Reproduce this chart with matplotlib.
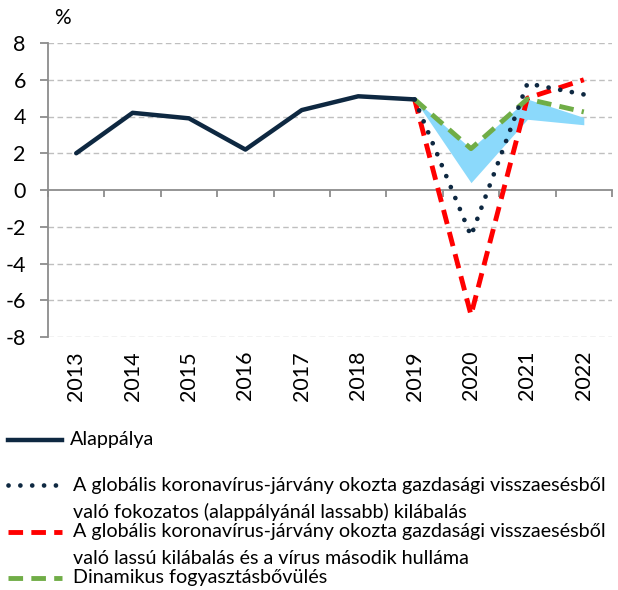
import matplotlib
matplotlib.use("Agg")
import matplotlib.pyplot as plt
from matplotlib.lines import Line2D
import numpy as np

plt.rcParams['font.family'] = ['Lato', 'DejaVu Sans']

years = ['2013', '2014', '2015', '2016', '2017', '2018', '2019', '2020', '2021', '2022']
baseline = [2.0, 4.2, 3.9, 2.2, 4.35, 5.1, 4.93]
gradual = [4.93, -2.5, 5.8, 5.2]
second_wave = [4.93, -6.8, 5.0, 6.0]
dynamic = [4.93, 2.25, 4.95, 4.25]
band_low = [4.93, 0.4, 3.85, 3.55]
band_high = [4.93, 2.25, 4.95, 3.95]

labels = [
    'Alappálya',
    'A globális koronavírus-járvány okozta gazdasági visszaesésből\nvaló fokozatos (alappályánál lassabb) kilábalás',
    'A globális koronavírus-járvány okozta gazdasági visszaesésből\nvaló lassú kilábalás és a vírus második hulláma',
    'Dinamikus fogyasztásbővülés',
]

navy = '#0E2841'
red = '#FF0000'
green = '#70AD47'
lblue = '#8BD9FB'
grid_c = '#BFBFBF'
axis_c = '#8C8C8C'

fig = plt.figure(figsize=(6.18, 5.90), dpi=100)
W, H = 618, 590
ax = fig.add_axes([48 / W, 1 - 337 / H, (612 - 48) / W, (337 - 43) / H])

x_all = np.arange(len(years))
x_base = x_all[:len(baseline)]
x_sc = x_all[6:]

dot_style = dict(color=navy, lw=3.4, dashes=(0.01, 2.5), dash_capstyle='round')
red_style = dict(color=red, lw=3.5, dashes=(3.0, 1.7))
green_style = dict(color=green, lw=3.5, dashes=(3.0, 1.7))

ax.fill_between(x_sc, band_low, band_high, color=lblue, lw=0, zorder=2)
ax.plot(x_base, baseline, color=navy, lw=3.2, solid_capstyle='round', solid_joinstyle='round', zorder=5)
ax.plot(x_sc, gradual, zorder=4, **dot_style)
ax.plot(x_sc, second_wave, zorder=3, **red_style)
ax.plot(x_sc, dynamic, zorder=3.5, **green_style)

ax.set_xlim(-0.5, len(years) - 0.5)
ax.set_ylim(-8, 8)
ax.set_yticks(np.arange(-8, 9, 2))
ax.set_yticklabels([str(v) for v in range(-8, 9, 2)])
for v in range(-8, 9, 2):
    if v != 0:
        ax.axhline(v, color=grid_c, lw=1.0, ls=(0, (4, 2.5)), zorder=1)

for s in ['top', 'right']:
    ax.spines[s].set_visible(False)
ax.spines['left'].set_color(axis_c)
ax.spines['left'].set_linewidth(1.3)
ax.spines['bottom'].set_position(('data', 0))
ax.spines['bottom'].set_color(axis_c)
ax.spines['bottom'].set_linewidth(1.3)
ax.spines['bottom'].set_zorder(1.5)

ax.set_xticks([])
ax.set_xticks(np.arange(-0.5, len(years), 1.0), minor=True)
ax.tick_params(axis='x', which='minor', length=5, width=1.3, color=axis_c, direction='out')
ax.tick_params(axis='y', length=6, width=1.3, color=axis_c, pad=10, labelsize=15.5)

sec = ax.secondary_xaxis(0.0)
sec.set_xticks(x_all)
sec.set_xticklabels(years, rotation=90, fontsize=15.5)
sec.tick_params(length=0, pad=10)
sec.spines['bottom'].set_visible(False)

fig.text(54 / W, 1 - 18 / H, '%', fontsize=15, va='center', ha='left')

# legend
fs = 14.2
handles = [
    dict(color=navy, lw=3.2, ls='-'),
    dot_style,
    red_style,
    green_style,
]
line_y = [440, 485, 532, 578]
text_x = [70, 73, 73, 73]
for h, ly, tx, lab in zip(handles, line_y, text_x, labels):
    yf = 1 - ly / H
    fig.add_artist(Line2D([8 / W, 62 / W], [yf, yf], transform=fig.transFigure, **h))
    if '\n' in lab:
        l1, l2 = lab.split('\n')
        fig.text(tx / W, yf, l1, fontsize=fs, va='center', ha='left')
        fig.text(tx / W, yf - 27 / H, l2, fontsize=fs, va='center', ha='left')
    else:
        fig.text(tx / W, yf, lab, fontsize=fs, va='center', ha='left')

fig.savefig('out.png', dpi=100)
